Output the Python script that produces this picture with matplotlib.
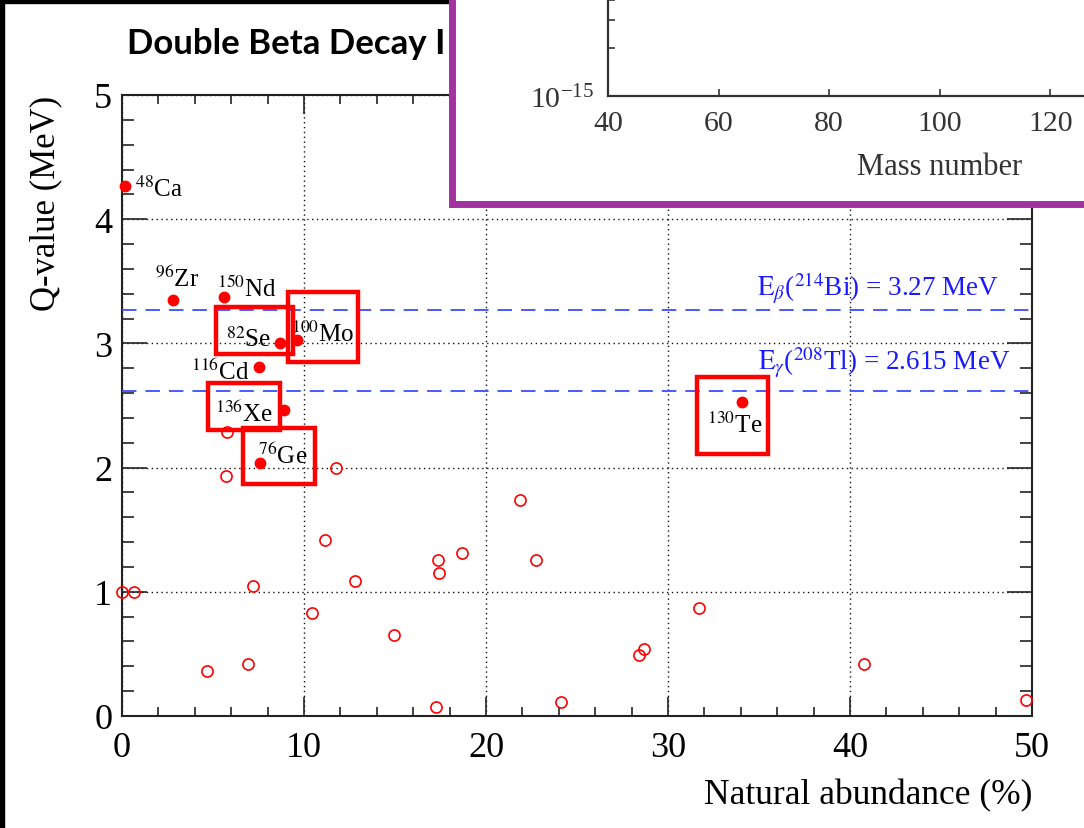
import numpy as np
import matplotlib
matplotlib.use('Agg')
import matplotlib.pyplot as plt
from matplotlib.patches import Rectangle
from matplotlib.ticker import MultipleLocator, LogLocator, NullFormatter, FixedLocator

plt.rcParams['mathtext.fontset'] = 'stix'
plt.rcParams['font.family'] = ['Liberation Serif', 'DejaVu Serif']

# double beta candidates with Q > 2 MeV: natural abundance (%) and Q-value (MeV)
names = ['$^{48}$Ca', '$^{96}$Zr', '$^{150}$Nd', '$^{82}$Se', '$^{100}$Mo',
         '$^{116}$Cd', '$^{136}$Xe', '$^{76}$Ge', '$^{130}$Te']
abund = [0.19, 2.8, 5.6, 8.7, 9.6, 7.5, 8.9, 7.6, 34.08]
qval = [4.27, 3.35, 3.37, 3.00, 3.03, 2.81, 2.46, 2.04, 2.53]

# label anchors (left edge, baseline) in data units
label_x = [0.71, 1.81, 5.20, 5.71, 9.29, 3.77, 5.11, 7.46, 32.13]
label_y = [4.19, 3.465, 3.384, 2.98, 3.02, 2.713, 2.378, 2.04, 2.284]

# the other double beta emitters (low Q)
other_abund = [0.02, 0.66, 7.2, 4.65, 6.92, 11.15, 12.8, 10.46, 14.95, 17.34,
               17.42, 18.66, 17.25, 21.85, 22.75, 24.12, 5.75, 5.71, 11.76,
               28.4, 28.7, 31.72, 40.78, 49.65]
other_q = [1.0, 1.0, 1.05, 0.365, 0.42, 1.42, 1.09, 0.83, 0.655, 1.26,
           1.15, 1.31, 0.07, 1.74, 1.26, 0.115, 2.29, 1.93, 2.0,
           0.49, 0.54, 0.87, 0.42, 0.13]

# background lines
bkg_q = [3.27, 2.615]
bkg_text = [r'$\mathrm{E}_{\beta}$($^{214}$Bi) = 3.27 MeV',
            r'$\mathrm{E}_{\gamma}$($^{208}$Tl) = 2.615 MeV']
bkg_text_x = [48.2, 48.8]
bkg_text_y = [3.384, 2.794]

# highlighted isotopes: x0, x1, y0, y1
boxes = {
    'Se': (5.14, 9.38, 2.918, 3.29),
    'Mo': (9.14, 12.99, 2.852, 3.41),
    'Xe': (4.74, 8.68, 2.30, 2.685),
    'Ge': (6.67, 10.6, 1.868, 2.317),
    'Te': (31.58, 35.49, 2.109, 2.727),
}

W, H = 1084, 829
fig = plt.figure(figsize=(W / 100, H / 100), dpi=100)

# slide frame
fig.patches.append(Rectangle((0, 0), 4 / W, 1, transform=fig.transFigure,
                             color='black', zorder=1))
fig.patches.append(Rectangle((0, 1 - 4 / H), 1, 4 / H, transform=fig.transFigure,
                             color='black', zorder=1))

fig.text(127 / W, 1 - 54 / H, 'Double Beta Decay I', fontsize=25, fontweight='bold',
         family=['Lato', 'DejaVu Sans'], va='baseline', ha='left', zorder=2)

ax = fig.add_axes([122 / W, 1 - 717 / H, 910 / W, 621 / H])
ax.set_xlim(0, 50)
ax.set_ylim(0, 5)

ax.plot(other_abund, other_q, 'o', mfc='none', mec='red', ms=8, mew=1.2,
        clip_on=False, zorder=4)
ax.plot(abund, qval, 'o', color='red', ms=7.5, clip_on=False, zorder=4)

for name, lx, ly in zip(names, label_x, label_y):
    ax.text(lx, ly, name, fontsize=18, ha='left', va='baseline', zorder=5)

for q, t, tx, ty in zip(bkg_q, bkg_text, bkg_text_x, bkg_text_y):
    ax.axhline(q, color='#3b4cff', lw=1.3, dashes=(8, 5), zorder=3)
    ax.text(tx, ty, t, color='#1a1aff', fontsize=19.5, ha='right', va='baseline', zorder=5)

for x0, x1, y0, y1 in boxes.values():
    ax.add_patch(Rectangle((x0, y0), x1 - x0, y1 - y0, fill=False,
                           edgecolor='red', lw=3.2, zorder=6))

ax.xaxis.set_major_locator(MultipleLocator(10))
ax.xaxis.set_minor_locator(MultipleLocator(2))
ax.yaxis.set_major_locator(MultipleLocator(1))
ax.yaxis.set_minor_locator(MultipleLocator(0.2))
ax.tick_params(which='both', direction='in', top=True, right=True,
               color='#222', width=1.2, labelsize=26)
ax.tick_params(axis='x', which='major', length=14, pad=11)
ax.tick_params(axis='x', which='minor', length=6.5)
ax.tick_params(axis='y', which='major', length=18, pad=7)
ax.tick_params(axis='y', which='minor', length=8.5)
for s in ax.spines.values():
    s.set_linewidth(1.5)
    s.set_color('#222')
ax.grid(True, which='major', color='#111', linestyle=(0, (1, 2.5)), lw=1.0)
ax.set_axisbelow(True)

ax.set_xlabel('Natural abundance (%)', fontsize=25.5, loc='right')
ax.xaxis.set_label_coords(1.0, -0.1)
ax.set_ylabel('Q-value (MeV)', fontsize=25, loc='top')
ax.yaxis.set_label_coords(-0.066, 1.0)

# pasted inset from the half-life plot
fig.patches.append(Rectangle((452 / W, 1 - 205 / H), 1, 1, transform=fig.transFigure,
                             facecolor='white', edgecolor='#a2329e', lw=5, zorder=5))

ax_in = fig.add_axes([608 / W, 1 - 97 / H, (W - 608) / W, 97 / H])
ax_in.set_zorder(6)
ax_in.patch.set_visible(False)
ax_in.set_xlim(40, 40 + (W - 608) / 5.53)
ax_in.set_yscale('log')
ax_in.set_ylim(1e-15, 1e-15 * 10 ** (97 / 159))
ax_in.xaxis.set_major_locator(FixedLocator([40, 60, 80, 100, 120]))
ax_in.xaxis.set_minor_locator(FixedLocator([]))
ax_in.yaxis.set_major_locator(FixedLocator([1e-15]))
ax_in.yaxis.set_minor_locator(LogLocator(base=10, subs=[2, 3, 4]))
ax_in.yaxis.set_minor_formatter(NullFormatter())
for side in ['top', 'right']:
    ax_in.spines[side].set_visible(False)
for side in ['left', 'bottom']:
    ax_in.spines[side].set_linewidth(1.6)
    ax_in.spines[side].set_color('#333')
ax_in.tick_params(which='both', direction='in', length=5, width=1.2, color='#333',
                  labelcolor='#333', labelsize=21.5, pad=10)
ax_in.set_xlabel('Mass number', fontsize=22, color='#333')
ax_in.xaxis.set_label_coords((940 - 608) / (W - 608), -0.58)

fig.savefig('out.png', dpi=100)
